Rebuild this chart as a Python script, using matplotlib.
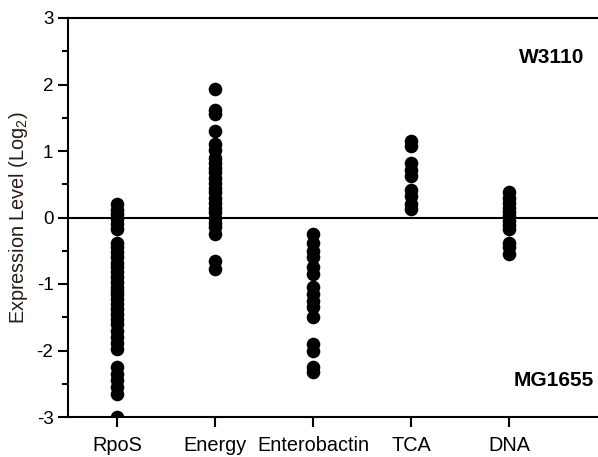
import matplotlib
matplotlib.use("Agg")
import matplotlib.pyplot as plt
from matplotlib.ticker import MultipleLocator

plt.rcParams['font.family'] = ['Liberation Sans', 'DejaVu Sans']
plt.rcParams['mathtext.fontset'] = 'custom'
plt.rcParams['mathtext.rm'] = 'Liberation Sans'
plt.rcParams['mathtext.default'] = 'regular'
plt.rcParams['axes.unicode_minus'] = False

categories = ["RpoS", "Energy", "Enterobactin", "TCA", "DNA"]

rpos = [0.21, 0.12, 0.05, -0.02, -0.1, -0.18, -0.38, -0.45, -0.52, -0.6, -0.68,
        -0.75, -0.82, -0.9, -0.97, -1.05, -1.1, -1.15, -1.22, -1.3, -1.38,
        -1.45, -1.52, -1.6, -1.7, -1.8, -1.88, -1.98, -2.25, -2.35, -2.45,
        -2.55, -2.65, -3.0]
energy = [1.93, 1.62, 1.55, 1.3, 1.1, 1.02, 0.9, 0.82, 0.75, 0.68, 0.6, 0.52,
          0.45, 0.38, 0.3, 0.22, 0.15, 0.08, 0.0, -0.08, -0.15, -0.25, -0.65,
          -0.78]
enterobactin = [-0.25, -0.38, -0.5, -0.6, -0.75, -0.85, -1.05, -1.15, -1.25,
                -1.35, -1.5, -1.9, -2.0, -2.25, -2.32]
tca = [1.15, 1.07, 0.82, 0.72, 0.62, 0.42, 0.32, 0.2, 0.13]
dna = [0.38, 0.3, 0.22, 0.15, 0.08, 0.02, -0.05, -0.12, -0.18, -0.38, -0.45,
       -0.55]

series = [rpos, energy, enterobactin, tca, dna]

fig = plt.figure(figsize=(5.98, 4.57), dpi=100)
ax = fig.add_axes([68/598, 40/457, (598-68)/598, 399/457])

for i, vals in enumerate(series):
    ax.plot([i]*len(vals), vals, 'o', color='black', markersize=9.8,
            markeredgewidth=0, linestyle='none')

ax.axhline(0, color='black', lw=1.5)

ax.set_xlim(-0.5, 4.908)
ax.set_ylim(-3, 3)
ax.set_xticks(range(len(categories)))
ax.set_xticklabels(categories, fontsize=14.3)
ax.yaxis.set_major_locator(MultipleLocator(1))
ax.yaxis.set_minor_locator(MultipleLocator(0.5))
ax.tick_params(axis='y', which='major', length=7, width=1.5, labelsize=13.5, direction='out')
ax.tick_params(axis='y', which='minor', length=4, width=1.5, direction='out')
ax.tick_params(axis='x', which='major', length=7, width=1.5, direction='out', pad=7)
ax.tick_params(axis='x', which='minor', bottom=False)

for s in ['left', 'top', 'bottom']:
    ax.spines[s].set_linewidth(1.5)
ax.spines['right'].set_visible(False)

ax.set_ylabel('Expression Level (Log$_2$)', fontsize=14.3, color='#2a1a12', labelpad=5)

ax.text(4.44, 2.41, 'W3110', fontsize=15, fontweight='bold', ha='center', va='center')
ax.text(4.46, -2.45, 'MG1655', fontsize=15, fontweight='bold', ha='center', va='center')

fig.savefig('out.png', dpi=100)
